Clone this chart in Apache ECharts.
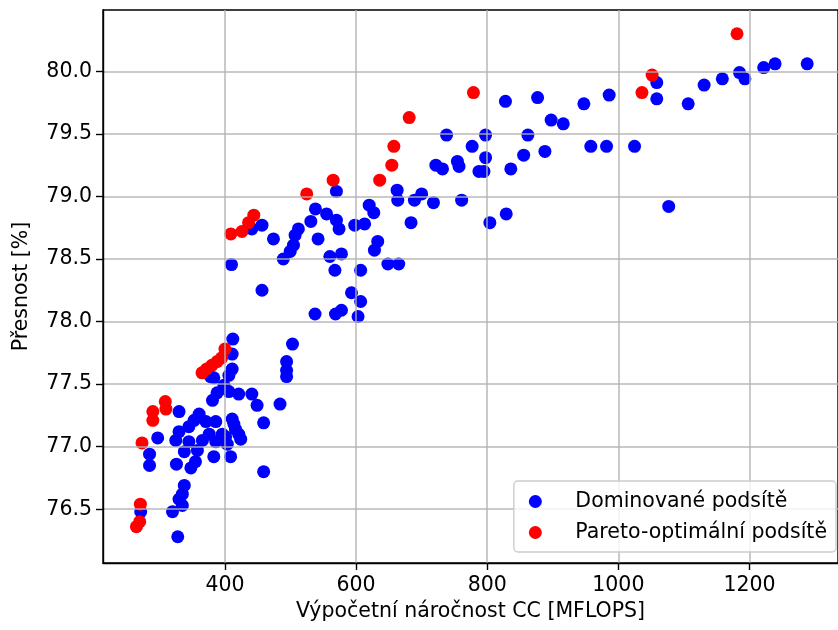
<!DOCTYPE html>
<html>
<head>
<meta charset="utf-8">
<script src="https://cdn.jsdelivr.net/npm/echarts@6/dist/echarts.min.js"></script>
<style>
  html, body { margin: 0; padding: 0; background: #fff; }
  #chart { width: 838px; height: 630px; }
</style>
</head>
<body>
<div id="chart"></div>
<script>
// Subnetworks dominated by another one: [MFLOPS, accuracy %]
const dominatedPoints = [
  [986, 79.81], [1058.6, 79.91], [1058.6, 79.78], [1106.5, 79.74], [1130.8, 79.89],
  [1158.6, 79.94], [1184.8, 79.99], [1193, 79.94], [1221.7, 80.03], [1239, 80.06],
  [1288, 80.06], [982, 79.40], [1024.7, 79.40], [958, 79.40], [1076.8, 78.92],
  [827.8, 79.76], [876.8, 79.79], [947.4, 79.74], [897.5, 79.61], [916, 79.58],
  [738, 79.49], [797.5, 79.49], [862, 79.49], [777, 79.40], [797.5, 79.31],
  [855.6, 79.33], [888, 79.36], [721.7, 79.25], [731.8, 79.22], [754.5, 79.28],
  [757, 79.24], [787.4, 79.20], [795, 79.20], [836, 79.22], [662.6, 79.05],
  [663.6, 78.97], [689, 78.97], [700, 79.02], [718, 78.95], [761, 78.97],
  [683.8, 78.79], [804, 78.79], [829, 78.86], [620, 78.93], [627, 78.87],
  [613, 78.78], [633, 78.64], [628, 78.57], [648.5, 78.46], [665, 78.46],
  [570, 79.04], [538, 78.90], [555, 78.86], [570, 78.81], [574, 78.74],
  [531, 78.80], [512, 78.74], [507, 78.69], [542, 78.66], [504.5, 78.61],
  [499.5, 78.56], [489, 78.50], [456.5, 78.77], [474, 78.66], [441, 78.74],
  [598, 78.77], [560, 78.52], [577.7, 78.54], [567.7, 78.41], [607, 78.41],
  [410, 78.455], [456.5, 78.25], [593, 78.23], [607, 78.16], [577.7, 78.09],
  [568.6, 78.06], [537.4, 78.06], [603, 78.04],
  [412, 77.86], [411, 77.74], [503, 77.82], [494, 77.68], [494, 77.61],
  [494, 77.56], [406, 77.57], [421, 77.42], [441, 77.42], [449, 77.33],
  [484, 77.34], [459, 77.19], [413.6, 77.18], [421, 77.10], [401, 77.08],
  [403.5, 77.02], [406, 77.44], [381, 77.37], [330, 77.28], [360.6, 77.26],
  [353, 77.21], [371, 77.20], [386, 77.20], [411, 77.22], [416, 77.14],
  [424, 77.06], [396, 77.10], [376, 77.10], [345, 77.16], [330, 77.12],
  [325, 77.05], [345, 77.04], [365.6, 77.05], [386, 77.04], [338, 76.96],
  [358, 76.97], [383, 76.92], [408.6, 76.92], [326, 76.86], [355, 76.88],
  [348, 76.83], [411, 77.62], [378, 77.56], [383, 77.55], [398.5, 77.49],
  [388, 77.43], [285, 76.94], [285, 76.85], [459, 76.80], [338, 76.69],
  [335, 76.62], [330, 76.58], [335, 76.53], [320, 76.48], [328, 76.28],
  [271.5, 76.48], [297.4, 77.07]
];

// Pareto-optimal subnetworks: [MFLOPS, accuracy %]
const paretoPoints = [
  [265, 76.36], [270, 76.40], [271, 76.54], [273.5, 77.03], [290, 77.21],
  [290, 77.28], [309, 77.36], [310, 77.30], [365, 77.59], [372, 77.62],
  [380, 77.65], [388, 77.68], [395, 77.71], [400, 77.78], [409, 78.70],
  [426, 78.72], [436, 78.79], [444, 78.85], [524.7, 79.02], [565, 79.13],
  [636, 79.13], [654.5, 79.25], [657.6, 79.40], [681, 79.63], [779, 79.83],
  [1036, 79.83], [1051.5, 79.97], [1181, 80.30]
];

const xTicks = [400, 600, 800, 1000, 1200];
const yTicks = [76.5, 77.0, 77.5, 78.0, 78.5, 79.0, 79.5, 80.0];

const seriesNames = ['Dominované podsítě', 'Pareto-optimální podsítě'];
const xTitle = 'Výpočetní náročnost CC [MFLOPS]';
const yTitle = 'Přesnost [%]';

const FONT = 'DejaVu Sans';
const FS = 20.5;

const chart = echarts.init(document.getElementById('chart'), null, { renderer: 'canvas' });

const axisCommon = {
  z: 3,
  axisLine: { show: true, onZero: false, lineStyle: { color: '#000', width: 1.4 } },
  axisTick: { show: true, inside: false, length: 7, lineStyle: { color: '#000', width: 1.4 } },
  splitLine: { show: true, lineStyle: { color: '#b0b0b0', width: 1.5, opacity: 0.9 } },
  nameTextStyle: { fontFamily: FONT, fontSize: FS, color: '#000' }
};

chart.setOption({
  animation: false,
  backgroundColor: '#fff',
  grid: {
    left: 103, top: 10, width: 740, height: 553,
    show: true, borderColor: '#000', borderWidth: 1.4, backgroundColor: 'transparent'
  },
  xAxis: Object.assign({}, axisCommon, {
    type: 'value',
    min: 214, max: 1335,
    name: xTitle,
    nameLocation: 'middle',
    nameGap: 36,
    axisTick: Object.assign({}, axisCommon.axisTick, { customValues: xTicks }),
    axisLabel: {
      customValues: xTicks, margin: 12,
      fontFamily: FONT, fontSize: FS, color: '#000',
      formatter: v => String(v)
    }
  }),
  yAxis: Object.assign({}, axisCommon, {
    type: 'value',
    min: 76.07, max: 80.49,
    name: yTitle,
    nameLocation: 'middle',
    nameGap: 71,
    nameRotate: 90,
    axisTick: Object.assign({}, axisCommon.axisTick, { customValues: yTicks }),
    axisLabel: {
      customValues: yTicks, margin: 11,
      fontFamily: FONT, fontSize: FS, color: '#000',
      formatter: v => Number(v).toFixed(1)
    }
  }),
  legend: {
    orient: 'vertical',
    right: 2, bottom: 78,
    itemWidth: 26, itemHeight: 13, itemGap: 10,
    padding: [10, 9, 9, 15],
    backgroundColor: 'rgba(255,255,255,0.8)',
    borderColor: '#cccccc', borderWidth: 1.4, borderRadius: 4,
    selectedMode: false,
    textStyle: { fontFamily: FONT, fontSize: FS, color: '#000', lineHeight: 21, padding: [0, 0, 0, 22] },
    data: [
      { name: seriesNames[0], icon: 'circle' },
      { name: seriesNames[1], icon: 'circle' }
    ]
  },
  series: [
    {
      name: seriesNames[0], type: 'scatter', z: 2,
      symbol: 'circle', symbolSize: 13,
      itemStyle: { color: '#0000ff', opacity: 1 },
      emphasis: { disabled: true },
      data: dominatedPoints
    },
    {
      name: seriesNames[1], type: 'scatter', z: 2,
      symbol: 'circle', symbolSize: 13,
      itemStyle: { color: '#ff0000', opacity: 1 },
      emphasis: { disabled: true },
      data: paretoPoints
    }
  ]
});
</script>
</body>
</html>
